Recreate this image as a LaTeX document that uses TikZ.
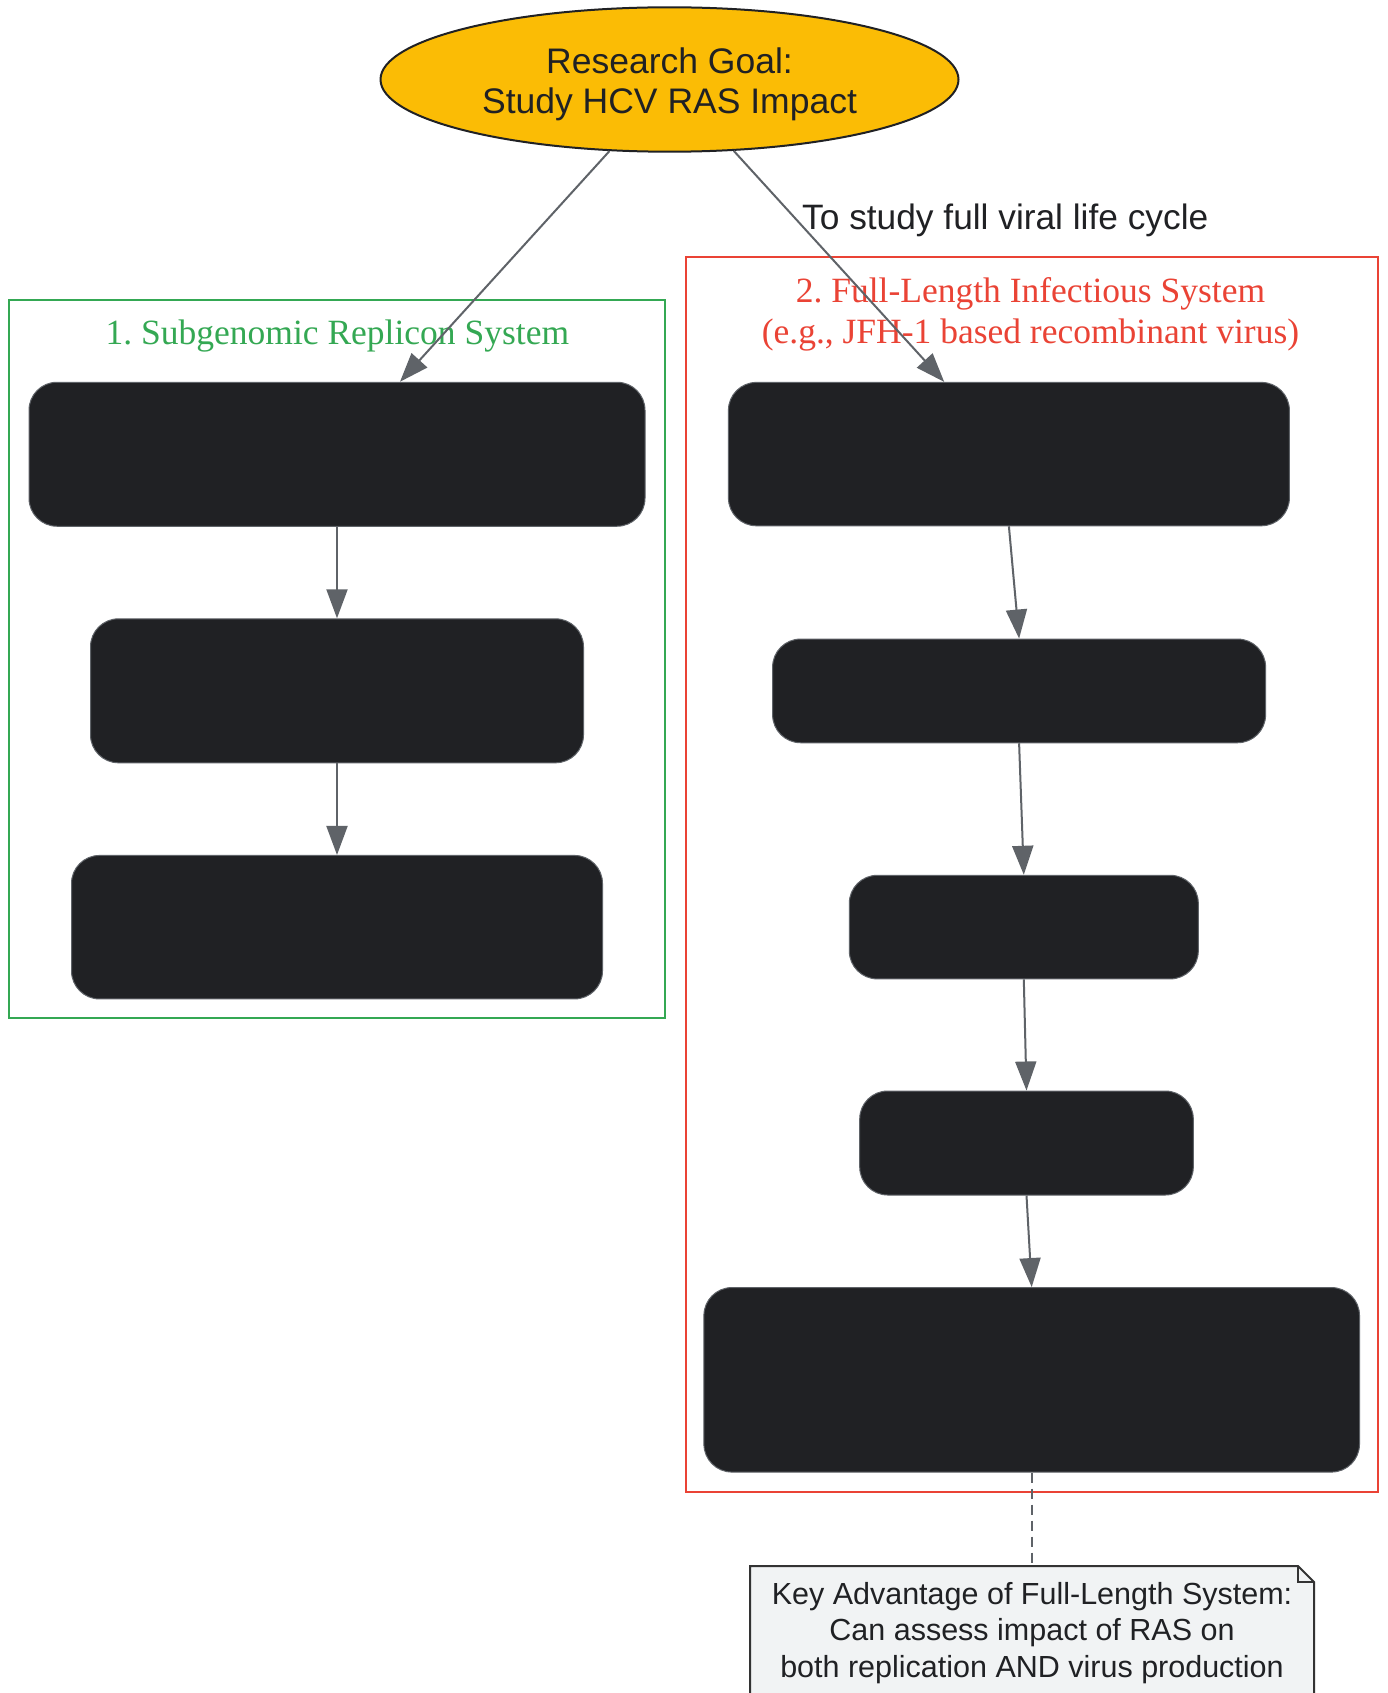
\documentclass[tikz,border=0pt]{standalone}
\usepackage{fontspec}
\setmainfont{Liberation Sans}
\newfontfamily\titlefont{Liberation Serif}
\usetikzlibrary{shapes.geometric,arrows.meta}
\definecolor{ink}{HTML}{202124}
\definecolor{edgegray}{HTML}{5F6368}
\definecolor{goalyellow}{HTML}{FBBC05}
\definecolor{grnc}{HTML}{34A853}
\definecolor{redc}{HTML}{EA4335}
\definecolor{notebg}{HTML}{F1F3F4}
\definecolor{noteline}{HTML}{333333}
\frenchspacing
\begin{document}
\frenchspacing
\begin{tikzpicture}[x=1pt,y=-1pt,
  blk/.style={rectangle, rounded corners=28pt, fill=ink, draw=edgegray, line width=1pt, inner sep=0pt},
  flow/.style={draw=edgegray, line width=2pt, -{Triangle[length=29pt,width=21pt]}},
  sanstxt/.style={font=\fontsize{35.5}{40}\selectfont, text=ink, inner sep=0pt, align=center},
  clustertitle/.style={font=\titlefont\fontsize{35.5}{40.4}\selectfont\frenchspacing, inner sep=0pt, align=center},
  cluster/.style={line width=2pt}
]
\useasboundingbox (0,0) rectangle (1388,1693);
\fill[white] (0,0) rectangle (1388,1693);

% clusters
\draw[cluster, draw=grnc] (8.5,300) rectangle (664.5,1018);
\draw[cluster, draw=redc] (685.5,257.5) rectangle (1378,1492);
\node[clustertitle, text=grnc, anchor=base] (gtitle) at (337.4,344.3) {1. Subgenomic Replicon System};
\node[clustertitle, text=redc] (rtitle) at (1030.5,314.3) {2. Full-Length Infectious System\\(e.g., JFH-1 based recombinant virus)};

% goal
\node[ellipse, draw=ink, line width=2pt, fill=goalyellow, minimum width=578pt, minimum height=144.4pt, inner sep=0pt] (goal) at (669.5,79.5) {};
\node[sanstxt] (goaltext) at (669.5,84.2) {Research Goal:\\Study HCV RAS Impact};

% boxes
\node[blk, minimum width=616pt, minimum height=144pt] (g1) at (337,454.25) {};
\node[blk, minimum width=493pt, minimum height=144pt] (g2) at (337,690.8) {};
\node[blk, minimum width=531pt, minimum height=143.5pt] (g3) at (337,927.2) {};
\node[blk, minimum width=561pt, minimum height=143.4pt] (r1) at (1008.9,454.1) {};
\node[blk, minimum width=493pt, minimum height=103.7pt] (r2) at (1019.1,690.9) {};
\node[blk, minimum width=349pt, minimum height=103.6pt] (r3) at (1023.8,927.1) {};
\node[blk, minimum width=333.6pt, minimum height=104pt] (r4) at (1026.5,1143) {};
\node[blk, minimum width=655.6pt, minimum height=184.5pt] (r5) at (1031.7,1379.8) {};

% edges
\draw[flow] (goal.-130.4) -- ([xshift=63pt]g1.north);
\draw[flow] (goal.-48.4) -- ([xshift=-64.7pt]r1.north);
\node[font=\fontsize{35.3}{40}\selectfont, text=ink, inner sep=0pt, anchor=base west] (elabel) at (802,230) {To study full viral life cycle};

\draw[flow] (g1.south) -- (g2.north);
\draw[flow] (g2.south) -- (g3.north);
\draw[flow] (r1.south) -- (r2.north);
\draw[flow] (r2.south) -- (r3.north);
\draw[flow] (r3.south) -- (r4.north);
\draw[flow] (r4.south) -- (r5.north);

% note
\coordinate (notetop) at (1031.7,1566);
\draw[edgegray, line width=2pt, dash pattern=on 10pt off 6pt] (r5.south) -- (notetop);
\filldraw[fill=notebg, draw=noteline, line width=2pt] (750,1566) -- (1298,1566) -- (1314,1582) -- (1314,1720) -- (750,1720) -- cycle;
\draw[noteline, line width=2pt] (1298,1566) -- (1298,1582) -- (1314,1582);
\node[font=\fontsize{30.5}{36.3}\selectfont, text=ink, align=center, inner sep=0pt] (note) at (1032,1632.9) {Key Advantage of Full-Length System:\\Can assess impact of RAS on\\both replication AND virus production};
\end{tikzpicture}
\end{document}
